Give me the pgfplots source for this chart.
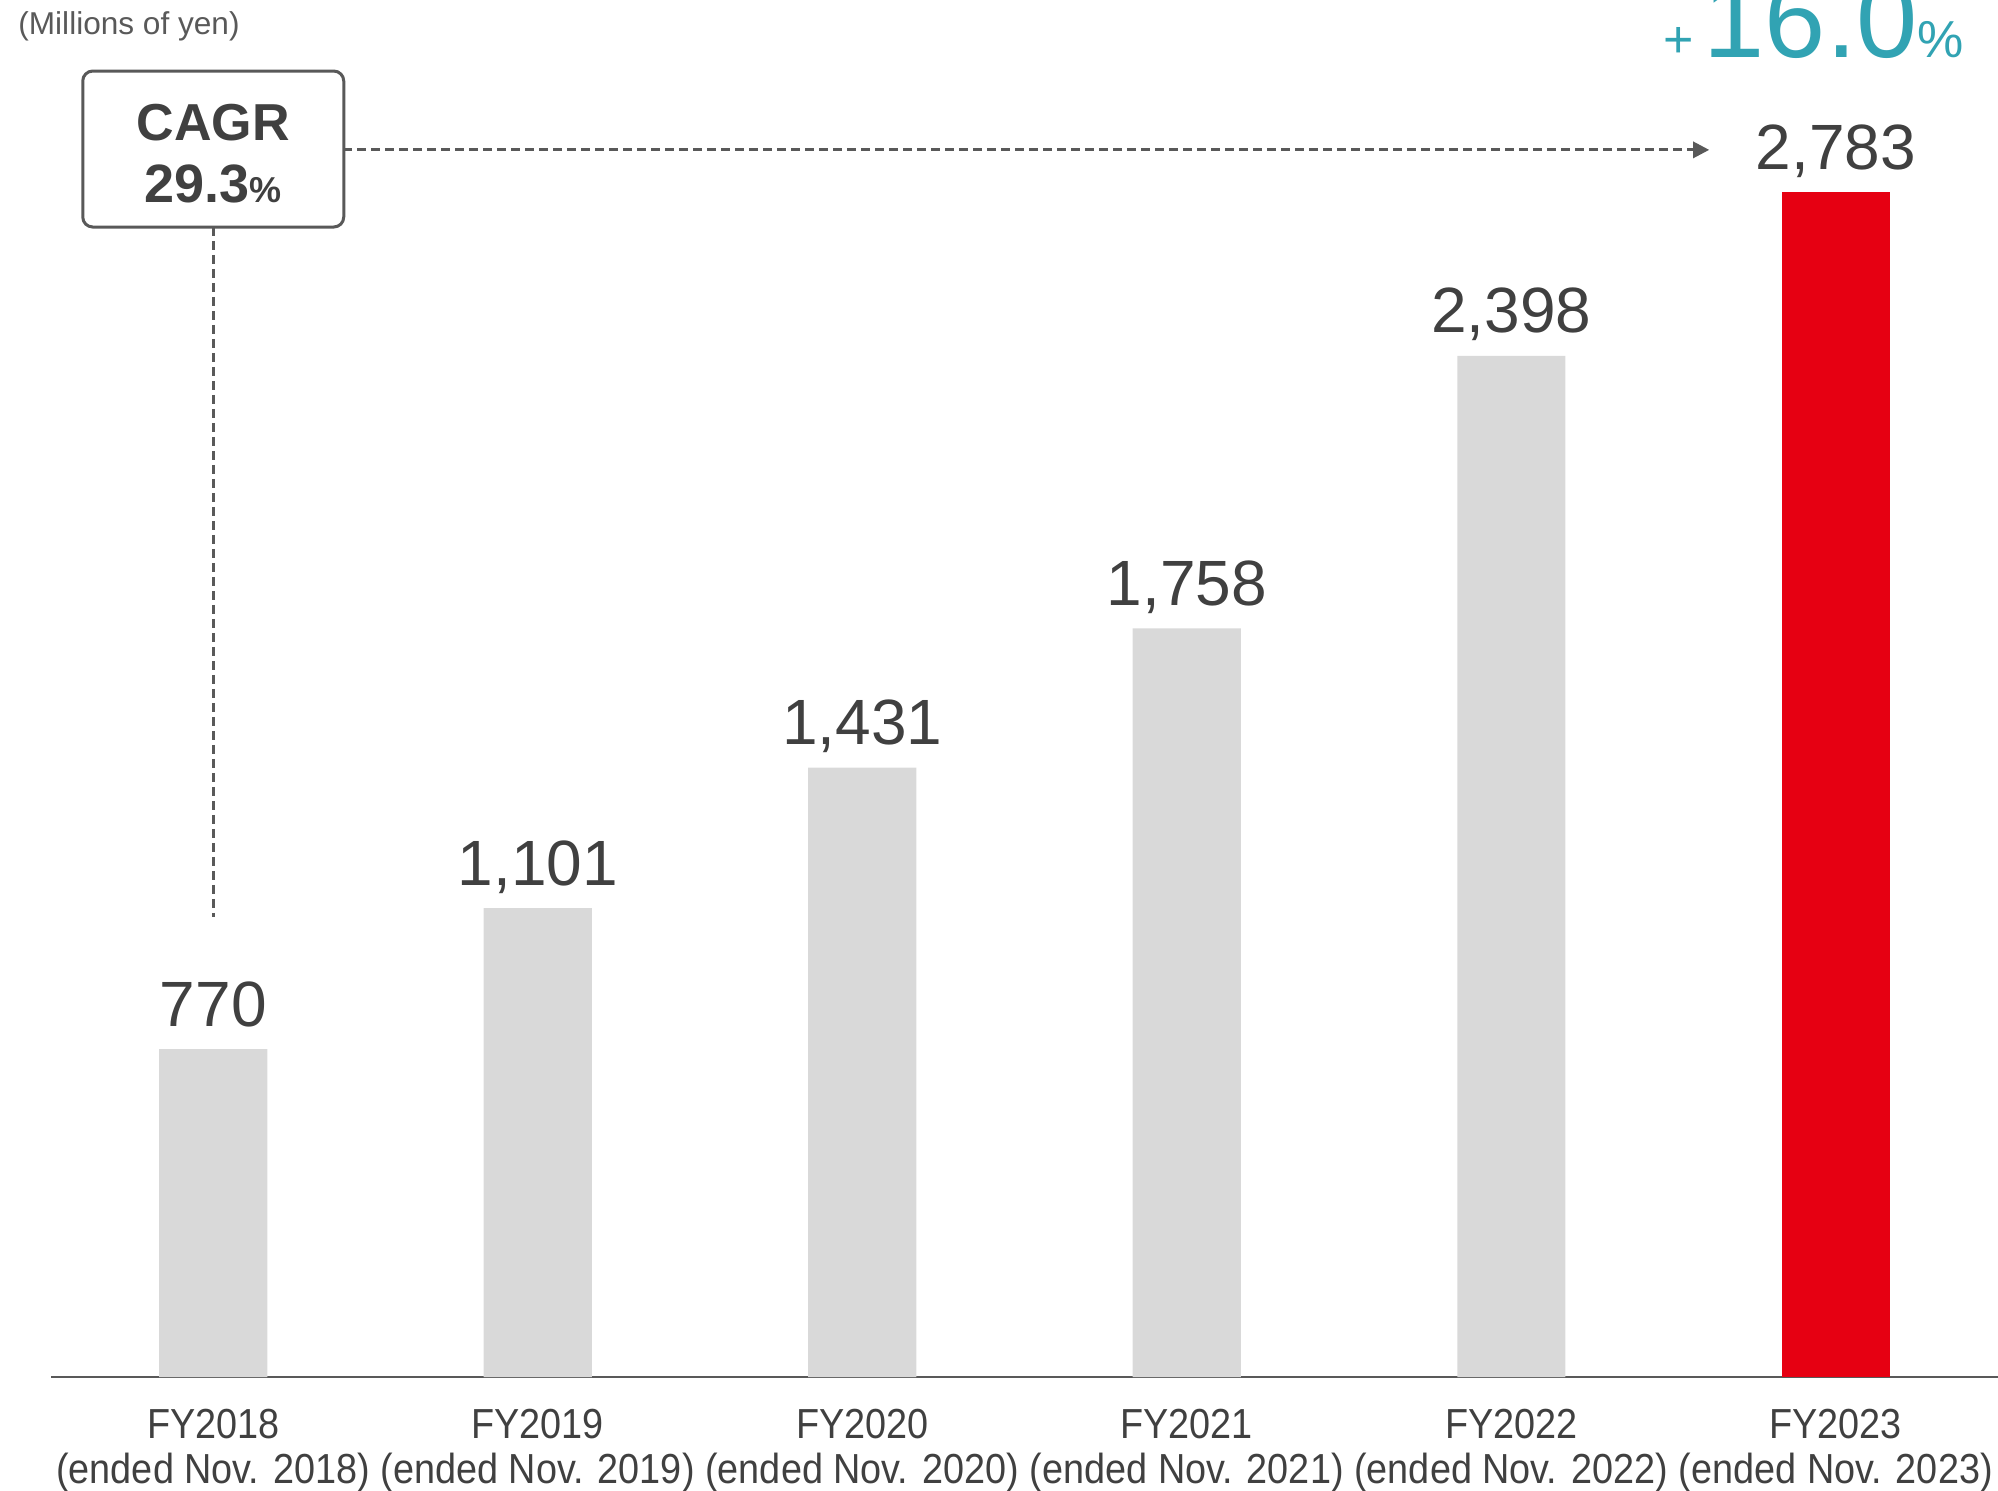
\documentclass[border=0pt]{standalone}
\usepackage{pgfplots}
\pgfplotsset{compat=1.18}
\usepackage{fontspec}
\setmainfont{Liberation Sans}
\newfontfamily\narrowfont[FakeStretch=0.9]{Liberation Sans}
\usetikzlibrary{arrows.meta}
\definecolor{barg}{HTML}{D9D9D9}
\definecolor{barr}{HTML}{E60012}
\definecolor{txt}{HTML}{404040}
\definecolor{mycyan}{HTML}{31A3B3}
\definecolor{axl}{HTML}{595959}
\begin{document}
\begin{tikzpicture}
\begin{axis}[
  scale only axis, width=486.75pt, height=344.25pt,
  xmin=-0.5, xmax=5.5, ymin=0, ymax=3234,
  axis x line=bottom, axis y line=none,
  x axis line style={-, draw=axl, line width=0.7pt},
  xtick={0,...,5}, major tick length=0pt, ytick=\empty,
  xticklabels={{FY2018\\(ended Nov. 2018)},{FY2019\\(ended Nov. 2019)},{FY2020\\(ended Nov. 2020)},{FY2021\\(ended Nov. 2021)},{FY2022\\(ended Nov. 2022)},{FY2023\\(ended Nov. 2023)}},
  xticklabel style={font=\narrowfont\fontsize{10.5}{11.25}\selectfont, text=txt, align=center, anchor=north, inner sep=0pt, yshift=-7.75pt},
  clip=false,
  ybar, bar width=0.333, bar shift=0pt,
  point meta=explicit symbolic,
  nodes near coords={\pgfplotspointmeta},
  every node near coord/.append style={font=\fontsize{16}{19}\selectfont, text=txt, anchor=base, inner sep=0pt, yshift=5.75pt},
]
\addplot[fill=barg, draw=none] table[x=x, y=y, meta=lab] {
x y lab
0 770 770
1 1101 1,101
2 1431 1,431
3 1758 1,758
4 2398 2,398
};
\addplot[fill=barr, draw=none] table[x=x, y=y, meta=lab] {
x y lab
5 2783 2,783
};
% annotations
\node[anchor=base west, inner sep=0pt, text=axl, font=\fontsize{7.9}{9}\selectfont] at (axis cs:-0.603,3153) {(Millions of yen)};
\node[draw=axl, line width=0.75pt, rounded corners=2.5pt, minimum width=65.25pt, minimum height=39pt, inner sep=0pt] at (axis cs:0,2884) {};
\node[anchor=base, inner sep=0pt, text=txt, font=\bfseries\fontsize{13}{15}\selectfont] at (axis cs:0,2904) {CAGR};
\node[anchor=base, inner sep=0pt, text=txt, font=\bfseries\fontsize{13.5}{15}\selectfont] at (axis cs:0,2759) {29.3{\fontsize{9}{10}\selectfont\%}};
\draw[axl, line width=0.75pt, dash pattern=on 2.3pt off 1.2pt] (axis cs:0,2701) -- (axis cs:0,1080);
\draw[axl, line width=0.75pt, dash pattern=on 2.3pt off 1.2pt, -{Triangle[length=4pt,width=4pt]}] (axis cs:0.40,2882) -- (axis cs:4.61,2882);
\node[anchor=base east, inner sep=0pt, text=mycyan] at (axis cs:5.398,3100) {{\fontsize{13}{15}\selectfont+}\hspace{2.5pt}{\fontsize{27.5}{30}\selectfont 16.0}{\fontsize{13}{15}\selectfont\%}};
\end{axis}
\pgfresetboundingbox
\path[use as bounding box] (-12.75pt,-28.25pt) rectangle (486.75pt,344.25pt);
\end{tikzpicture}
\end{document}
